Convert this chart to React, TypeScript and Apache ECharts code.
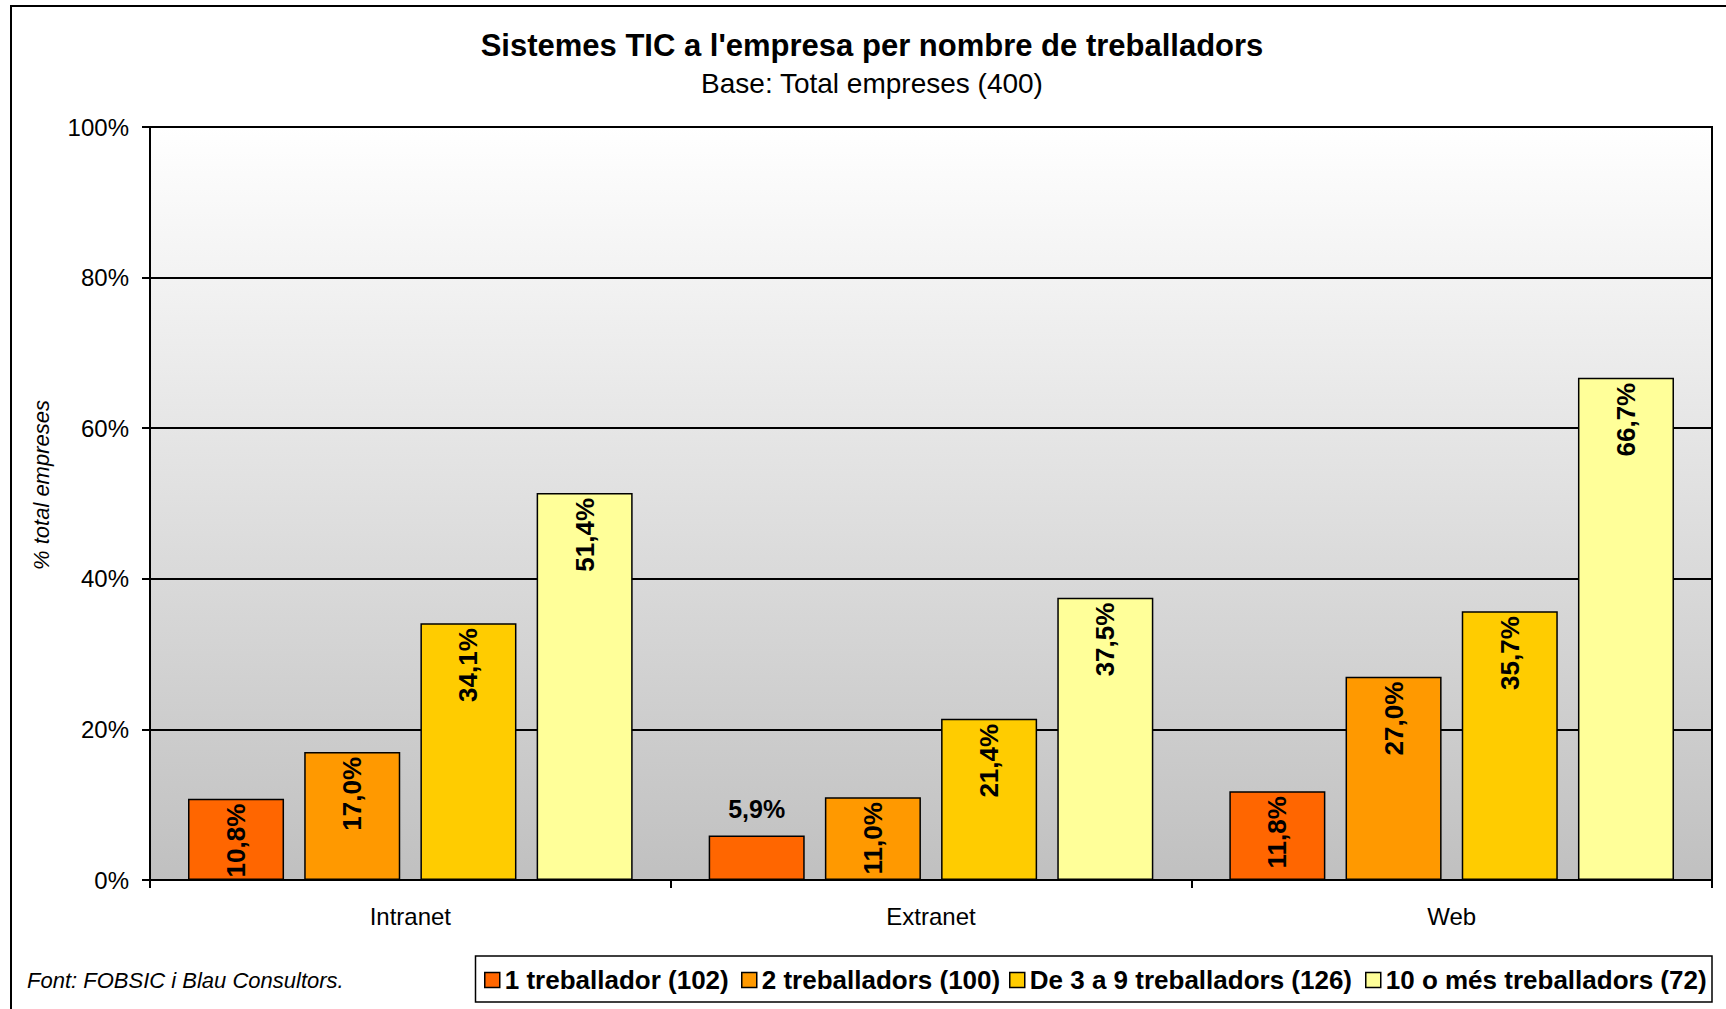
import React, { useEffect, useRef } from "react";
import * as echarts from "echarts";

const categories = ["Intranet", "Extranet", "Web"];
const seriesNames = [
  "1 treballador (102)",
  "2 treballadors (100)",
  "De 3 a 9 treballadors (126)",
  "10 o més treballadors (72)",
];
const oneWorker = [10.8, 5.9, 11.8];
const twoWorkers = [17.0, 11.0, 27.0];
const threeToNine = [34.1, 21.4, 35.7];
const tenOrMore = [51.4, 37.5, 66.7];
const seriesValues = [oneWorker, twoWorkers, threeToNine, tenOrMore];
const seriesColors = ["#FF6600", "#FF9900", "#FFCC00", "#FFFF99"];
const yTicks = [0, 20, 40, 60, 80, 100];
const legendLefts = [484, 741, 1009, 1365];

const FONT = "'Liberation Sans', Arial, sans-serif";

const fmt = (v: number) => v.toFixed(1).replace(".", ",") + "%";

export default function App() {
  const ref = useRef<HTMLDivElement>(null);

  useEffect(() => {
    document.body.style.margin = "0";
    if (!ref.current) return;
    const chart = echarts.init(ref.current, null, { renderer: "svg" });

    const series = seriesValues.map((vals, si) => ({
      type: "bar",
      name: seriesNames[si],
      barGap: "21%",
      barCategoryGap: "14.6%",
      itemStyle: { color: seriesColors[si], borderColor: "#000", borderWidth: 1.5 },
      label: {
        show: true,
        position: "insideTop",
        rotate: 90,
        align: "right",
        verticalAlign: "middle",
        distance: 5,
        fontFamily: FONT,
        fontWeight: "bold",
        fontSize: 26,
        color: "#000",
        formatter: (p: any) => fmt(p.value),
      },
      data: vals.map((v) =>
        v < 8
          ? {
              value: v,
              label: {
                position: "top",
                rotate: 0,
                align: "center",
                verticalAlign: "bottom",
                distance: 14,
                fontSize: 25,
              },
            }
          : v
      ),
    }));

    const legends = seriesNames.map((n, i) => ({
      data: [n],
      left: legendLefts[i],
      top: 967,
      padding: 0,
      itemWidth: 15,
      itemHeight: 15,
      itemGap: 5,
      icon: "rect",
      itemStyle: { borderColor: "#000", borderWidth: 1.5 },
      textStyle: { fontFamily: FONT, fontWeight: "bold", fontSize: 26, color: "#000" },
      selectedMode: false,
    }));

    chart.setOption({
      animation: false,
      backgroundColor: "#fff",
      textStyle: { fontFamily: FONT },
      graphic: [
        {
          type: "rect",
          z: -10,
          silent: true,
          shape: { x: 11, y: 6, width: 1800, height: 1100 },
          style: { fill: "none", stroke: "#000", lineWidth: 2 },
        },
        {
          type: "text",
          x: 872,
          y: 45,
          style: {
            text: "Sistemes TIC a l'empresa per nombre de treballadors",
            fontFamily: FONT,
            fontWeight: "bold",
            fontSize: 31,
            fill: "#000",
            align: "center",
            verticalAlign: "middle",
          },
        },
        {
          type: "text",
          x: 872,
          y: 83,
          style: {
            text: "Base: Total empreses (400)",
            fontFamily: FONT,
            fontSize: 28,
            fill: "#000",
            align: "center",
            verticalAlign: "middle",
          },
        },
        {
          type: "text",
          x: 41,
          y: 485,
          rotation: Math.PI / 2,
          style: {
            text: "% total empreses",
            fontFamily: FONT,
            fontStyle: "italic",
            fontSize: 22,
            fill: "#000",
            align: "center",
            verticalAlign: "middle",
          },
        },
        {
          type: "text",
          x: 27,
          y: 980,
          style: {
            text: "Font: FOBSIC i Blau Consultors.",
            fontFamily: FONT,
            fontStyle: "italic",
            fontSize: 22,
            fill: "#000",
            align: "left",
            verticalAlign: "middle",
          },
        },
        {
          type: "rect",
          z: -1,
          silent: true,
          shape: { x: 475.5, y: 956, width: 1236.5, height: 46 },
          style: { fill: "#fff", stroke: "#000", lineWidth: 1.5 },
        },
      ],
      legend: legends,
      grid: {
        left: 150,
        right: 14,
        top: 127,
        bottom: 129,
        show: true,
        borderColor: "#000",
        borderWidth: 2,
        backgroundColor: new echarts.graphic.LinearGradient(0, 0, 0, 1, [
          { offset: 0, color: "#ffffff" },
          { offset: 1, color: "#c0c0c0" },
        ]),
      },
      xAxis: {
        type: "category",
        data: categories,
        axisLine: { lineStyle: { color: "#000", width: 2 } },
        axisTick: { show: true, length: 8, lineStyle: { color: "#000", width: 2 } },
        axisLabel: { fontFamily: FONT, fontSize: 24, color: "#000", margin: 24 },
      },
      yAxis: {
        type: "value",
        min: yTicks[0],
        max: yTicks[yTicks.length - 1],
        interval: 20,
        axisLine: { show: true, lineStyle: { color: "#000", width: 2 } },
        axisTick: { show: true, length: 8, lineStyle: { color: "#000", width: 2 } },
        axisLabel: {
          fontFamily: FONT,
          fontSize: 24,
          color: "#000",
          margin: 21,
          formatter: (v: number) => v + "%",
        },
        splitLine: { show: true, lineStyle: { color: "#000", width: 2 } },
      },
      series,
    });

    return () => chart.dispose();
  }, []);

  return <div ref={ref} style={{ width: 1726, height: 1009 }} />;
}
